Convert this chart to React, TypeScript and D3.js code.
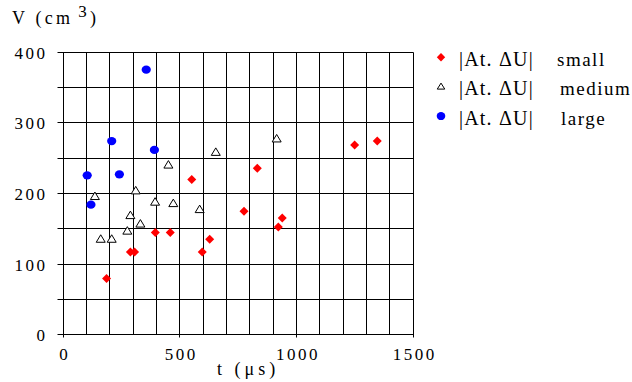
import React from "react";
import * as d3 from "d3";

const smallT = [553, 397, 461, 290, 308, 598, 630, 188, 1251, 1348, 834, 777, 941, 924];
const smallV = [219, 144, 144, 116.5, 116.5, 116.5, 134.5, 79, 268, 273.5, 235, 174, 164.5, 152];
const mediumT = [453, 656, 138, 313, 396, 474, 587, 290, 333, 277, 163, 210, 917];
const mediumV = [239.5, 257.5, 195, 203, 187, 185, 176.5, 168, 156, 146, 134.5, 134.5, 276.5];
const largeT = [358, 210, 393, 105, 243, 121];
const largeV = [374.5, 273.5, 261, 225, 226.5, 183.5];

const xTicks = [0, 500, 1000, 1500];
const yTicks = [0, 100, 200, 300, 400];
const legendLabels = ["small", "medium", "large"];

const W = 632;
const H = 382;
const FAM = "Liberation Serif";

const x = d3.scaleLinear().domain([0, 1500]).range([62.7, 412.7]);
const y = d3.scaleLinear().domain([0, 400]).range([334.3, 51.7]);

const diamond = (r: number) => `M0,${-r}L${r},0L0,${r}L${-r},0Z`;
const triangle = (w: number, h: number) =>
  `M0,${-h * 0.6}L${w / 2},${h * 0.4}L${-w / 2},${h * 0.4}Z`;

const snap = (v: number) => Math.round(v) + 0.5;

export default function App() {
  const xGrid = d3.range(0, 1501, 100);
  const yGrid = d3.range(0, 401, 50);
  const small = smallT.map((t, i) => ({ t, v: smallV[i] }));
  const medium = mediumT.map((t, i) => ({ t, v: mediumV[i] }));
  const large = largeT.map((t, i) => ({ t, v: largeV[i] }));

  return (
    <svg
      width={W}
      height={H}
      style={{ position: "absolute", left: 0, top: 0, background: "#fff" }}
    >
      <rect x={0} y={0} width={W} height={H} fill="#fff" />
      {xGrid.map((t) => (
        <line
          key={"xg" + t}
          x1={snap(x(t))}
          x2={snap(x(t))}
          y1={snap(y(400))}
          y2={snap(y(0)) + (t % 500 === 0 ? 3 : 0)}
          stroke="#000"
          strokeWidth={1}
        />
      ))}
      {yGrid.map((v) => (
        <line
          key={"yg" + v}
          x1={snap(x(0)) - 6}
          x2={snap(x(1500))}
          y1={snap(y(v))}
          y2={snap(y(v))}
          stroke="#000"
          strokeWidth={1}
        />
      ))}
      {yTicks.map((v) => (
        <text
          key={"yl" + v}
          x={47.5}
          y={y(v) + 7}
          textAnchor="end"
          fontSize={17}
          fontFamily={FAM}
          letterSpacing={2.5}
          fill="#000"
        >
          {v}
        </text>
      ))}
      {xTicks.map((t) => (
        <text
          key={"xl" + t}
          x={x(t) + 2}
          y={360}
          textAnchor="middle"
          fontSize={17}
          fontFamily={FAM}
          letterSpacing={2.5}
          fill="#000"
        >
          {t}
        </text>
      ))}
      <text x={12} y={23.5} fontSize={18} fontFamily={FAM} letterSpacing={3.2} fill="#000">
        V (cm
        <tspan dx={5} dy={-7} fontSize={17}>3</tspan>
        <tspan dy={7}>)</tspan>
      </text>
      <text x={217} y={374.5} fontSize={18} fontFamily={FAM} letterSpacing={4} fill="#000">
        t (μs)
      </text>
      {medium.map((d, i) => (
        <path
          key={"m" + i}
          d={triangle(9, 7.5)}
          transform={`translate(${x(d.t)},${y(d.v)})`}
          fill="#fff"
          stroke="#000"
          strokeWidth={1}
        />
      ))}
      {small.map((d, i) => (
        <path
          key={"s" + i}
          d={diamond(4.5)}
          transform={`translate(${x(d.t)},${y(d.v)})`}
          fill="#ff0000"
        />
      ))}
      {large.map((d, i) => (
        <ellipse
          key={"l" + i}
          cx={x(d.t)}
          cy={y(d.v)}
          rx={4.6}
          ry={4.1}
          fill="#0000ff"
        />
      ))}
      {legendLabels.map((lab, i) => {
        const cy = 57.3 + i * 29.4;
        return (
          <g key={"lg" + i}>
            {i === 0 && <path d={diamond(4.2)} transform={`translate(441,${cy})`} fill="#ff0000" />}
            {i === 1 && (
              <path d={triangle(7.5, 6)} transform={`translate(441,${cy})`} fill="#fff" stroke="#000" strokeWidth={1} />
            )}
            {i === 2 && <ellipse cx={441} cy={cy} rx={4.3} ry={4} fill="#0000ff" />}
            <text x={459} y={cy + 8.5} fontSize={20} fontFamily={FAM} letterSpacing={1.2} fill="#000">
              |At. ΔU|
            </text>
            <text x={557 + (i === 0 ? 0 : i === 1 ? 3 : 4)} y={cy + 8.5} fontSize={19} fontFamily={FAM} letterSpacing={1.5} fill="#000">
              {lab}
            </text>
          </g>
        );
      })}
    </svg>
  );
}
